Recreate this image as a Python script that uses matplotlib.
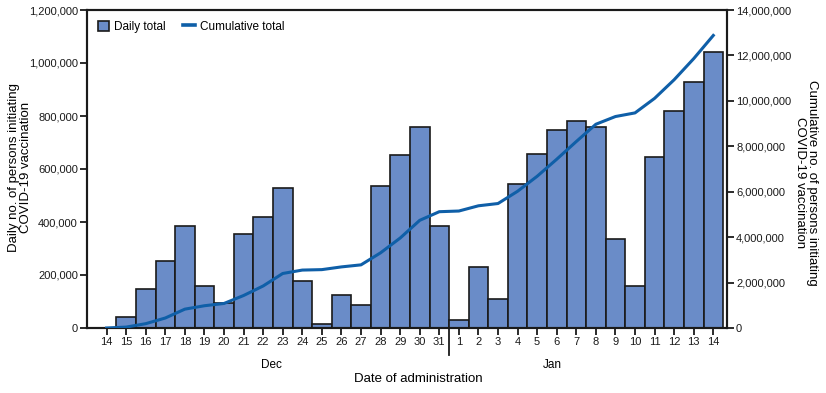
import matplotlib.pyplot as plt
import matplotlib.transforms as mtransforms
from matplotlib.patches import Patch
from matplotlib.lines import Line2D
from matplotlib.ticker import FuncFormatter

plt.rcParams['font.family'] = ['Liberation Sans', 'DejaVu Sans']

dec_days = list(range(14, 32))
jan_days = list(range(1, 15))
day_labels = [str(d) for d in dec_days + jan_days]

daily = [0, 43000, 147000, 251000, 384000, 160000, 93000, 355000, 419000, 528000,
         179000, 14000, 126000, 85000, 535000, 654000, 759000, 384000,
         30000, 230000, 111000, 544000, 657000, 747000, 780000, 760000,
         335000, 157000, 645000, 819000, 929000, 1043000]

cumulative = [0, 40000, 190000, 440000, 830000, 980000, 1080000, 1430000, 1850000, 2400000,
              2550000, 2570000, 2690000, 2780000, 3310000, 3960000, 4740000, 5120000,
              5150000, 5380000, 5480000, 6020000, 6680000, 7430000, 8210000, 8970000,
              9310000, 9470000, 10110000, 10930000, 11860000, 12880000]

bar_color = '#6a8cc8'
line_color = '#0f5fa8'

fig = plt.figure(figsize=(8.26, 3.93), dpi=100)
ax = fig.add_axes([87 / 826, 65 / 393, 640 / 826, 318 / 393])
x = list(range(len(day_labels)))

ax.bar(x, daily, width=1.0, color=bar_color, edgecolor='#1a1a1a', linewidth=1.2, zorder=2)
ax.set_xlim(-1.0, 31.7)
ax.set_ylim(0, 1200000)
ax.set_yticks(range(0, 1200001, 200000))
ax.yaxis.set_major_formatter(FuncFormatter(lambda v, p: f'{int(v):,}'))
ax.set_xticks(x)
ax.set_xticklabels(day_labels)

ax2 = ax.twinx()
ax2.plot(x, cumulative, color=line_color, linewidth=2.2, zorder=3)
ax2.set_ylim(0, 14000000)
ax2.set_yticks(range(0, 14000001, 2000000))
ax2.yaxis.set_major_formatter(FuncFormatter(lambda v, p: f'{int(v):,}'))

for a in (ax, ax2):
    for s in a.spines.values():
        s.set_linewidth(1.5)
        s.set_color('#1a1a1a')
    a.tick_params(direction='out', length=5, width=1.3, labelsize=8, colors='#1a1a1a', pad=1.5)

fig.text(20 / 826, 1 - 167 / 393, 'Daily no. of persons initiating\nCOVID-19 vaccination',
         rotation=90, ha='center', va='center', fontsize=9.5, linespacing=1.1)
fig.text(806 / 826, 1 - 183 / 393, 'Cumulative no. of persons initiating\nCOVID-19 vaccination',
         rotation=270, ha='center', va='center', fontsize=9.5, linespacing=1.1)

# separator between Dec and Jan
trans = mtransforms.blended_transform_factory(ax.transData, ax.transAxes)
ax.plot([17.5, 17.5], [0, -0.085], transform=trans, color='#1a1a1a', linewidth=1.3,
        clip_on=False)
ax.text(8.4, -0.115, 'Dec', transform=trans, ha='center', va='center', fontsize=8.5)
ax.text(22.8, -0.115, 'Jan', transform=trans, ha='center', va='center', fontsize=8.5)
fig.text(418 / 826, 14 / 393, 'Date of administration', ha='center', va='center', fontsize=9.5)

handles = [Patch(facecolor=bar_color, edgecolor='#1a1a1a', linewidth=1.2),
           Line2D([0], [0], color=line_color, linewidth=2.6)]
ax.legend(handles, ['Daily total', 'Cumulative total'], loc='upper left', ncol=2,
          frameon=False, fontsize=8.5, handlelength=1.0, handleheight=1.0,
          columnspacing=1.5, handletextpad=0.4, bbox_to_anchor=(0.0, 1.0))

fig.savefig('out.png', dpi=100)
